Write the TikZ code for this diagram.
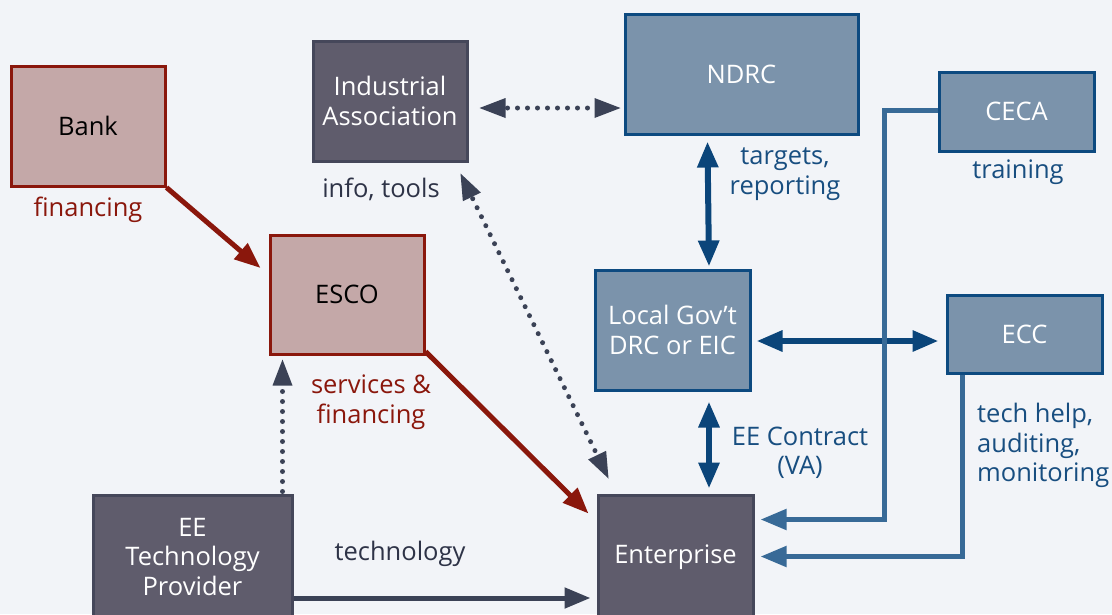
\documentclass[tikz,border=0pt]{standalone}
\usepackage{fontspec}
\setmainfont{Open Sans}
\usetikzlibrary{arrows.meta,calc}
\definecolor{bgc}{HTML}{F2F4F8}
\definecolor{redfill}{HTML}{C4A8A8}
\definecolor{redline}{HTML}{8A170C}
\definecolor{grayfill}{HTML}{5F5C6C}
\definecolor{grayline}{HTML}{45475A}
\definecolor{grayarr}{HTML}{3B4256}
\definecolor{bluefill}{HTML}{7B93AB}
\definecolor{blueline}{HTML}{0D4A80}
\definecolor{bluearr}{HTML}{0B457A}
\definecolor{steel}{HTML}{386A97}
\definecolor{bluetext}{HTML}{184E80}
\definecolor{graytext}{HTML}{2E3347}
\tikzset{
  txt/.style={font=\fontsize{25.5}{29.5}\selectfont, align=center, inner sep=0pt},
  box/.style={txt, draw, line width=3pt, minimum width=154pt, minimum height=120pt},
  redbox/.style={box, fill=redfill, draw=redline, text=black},
  graybox/.style={box, fill=grayfill, draw=grayline, text=white},
  bluebox/.style={box, fill=bluefill, draw=blueline, text=white},
  redarrow/.style={draw=redline, line width=5pt, -{Triangle[length=26pt,width=20pt]}},
  grayarrow/.style={draw=grayarr, line width=5pt, -{Triangle[length=26pt,width=20pt]}},
  dotline/.style={draw=grayarr, line width=5pt, line cap=round, dash pattern=on 0pt off 10pt},
  graytip/.style={fill=grayarr, draw=none},
  bluearrow/.style={draw=bluearr, line width=6pt, {Triangle[length=26pt,width=20pt]}-{Triangle[length=26pt,width=20pt]}},
  steelarrow/.style={draw=steel, line width=5pt, -{Triangle[length=26pt,width=20pt]}},
  label/.style={txt, yshift=-2.5pt},
  redlabel/.style={label, text=redline},
  graylabel/.style={label, text=graytext},
  bluelabel/.style={label, text=bluetext},
}
\begin{document}
\begin{tikzpicture}[x=1pt,y=-1pt]
\fill[bgc] (0,0) rectangle (1112,614);
\useasboundingbox (0,0) rectangle (1112,614);

% boxes
\node[redbox] (bank) at (88,126) {Bank};
\node[redbox, minimum height=119pt] (esco) at (347,294.5) {ESCO};
\node[graybox] (ia) at (390,101) {Industrial\\Association};
\node[bluebox, minimum width=233pt] (ndrc) at (741.5,74) {NDRC};
\node[bluebox, minimum width=155pt, minimum height=79pt] (ceca) at (1016.5,111.5) {CECA};
\node[bluebox, minimum width=155pt] (lgov) at (672.5,330) {Local Gov’t\\DRC or EIC};
\node[bluebox, minimum width=155pt, minimum height=78pt] (ecc) at (1024.5,334) {ECC};
\node[graybox, minimum width=155pt, minimum height=124pt] (ent) at (675.5,557) {Enterprise};
\node[graybox, minimum width=199pt, minimum height=124pt] (eet) at (192.5,557) {EE\\Technology\\Provider};

% labels
\node[redlabel] (lfin) at (88,207) {financing};
\node[graylabel] (linfo) at (381,187) {info, tools};
\node[bluelabel] (ltarg) at (785,171.5) {targets,\\reporting};
\node[bluelabel] (ltrain) at (1018,170) {training};
\node[redlabel] (lserv) at (371,399.5) {services \&\\financing};
\node[bluelabel] (lcontract) at (800,450.5) {EE Contract\\(VA)};
\node[bluelabel, align=left, anchor=west] (ltech) at (977,443) {tech help,\\auditing,\\monitoring};
\node[graylabel] (ltechn) at (400,551) {technology};

% financing flows
\draw[redarrow] (bank.south east) -- ($(esco.west)+(-8,-26.5)$);
\draw[redarrow] ($(esco.south east)+(0,-4)$) -- ($(ent.north west)+(-8,20)$);

% information links (dotted, with solid tips)
\coordinate (ia1) at ($(ia.east)+(11,7)$);
\coordinate (nd1) at ($(ndrc.west)+(-3,34)$);
\draw[dotline] ($(ia1)!28pt!(nd1)$) -- ($(nd1)!28pt!(ia1)$);
\fill[graytip] (ia1) -- ($(ia1)!26pt!(nd1)!10pt!90:(nd1)$) -- ($(ia1)!26pt!(nd1)!10pt!-90:(nd1)$) -- cycle;
\fill[graytip] (nd1) -- ($(nd1)!26pt!(ia1)!10pt!90:(ia1)$) -- ($(nd1)!26pt!(ia1)!10pt!-90:(ia1)$) -- cycle;

\coordinate (ia2) at ($(ia.south east)+(-8,11)$);
\coordinate (en2) at ($(ent.north west)+(12,-15)$);
\draw[dotline] ($(ia2)!28pt!(en2)$) -- ($(en2)!28pt!(ia2)$);
\fill[graytip] (ia2) -- ($(ia2)!26pt!(en2)!10pt!90:(en2)$) -- ($(ia2)!26pt!(en2)!10pt!-90:(en2)$) -- cycle;
\fill[graytip] (en2) -- ($(en2)!26pt!(ia2)!10pt!90:(ia2)$) -- ($(en2)!26pt!(ia2)!10pt!-90:(ia2)$) -- cycle;

\coordinate (ee3) at ($(eet.north west)+(191,-2)$);
\coordinate (es3) at ($(esco.south west)+(14,4)$);
\draw[dotline] (ee3) -- ($(es3)!28pt!(ee3)$);
\fill[graytip] (es3) -- ($(es3)!26pt!(ee3)!10pt!90:(ee3)$) -- ($(es3)!26pt!(ee3)!10pt!-90:(ee3)$) -- cycle;

% technology supply
\draw[grayarrow] ($(eet.east)+(0,41)$) -- ($(ent.west)+(-6,41)$);

% government links
\draw[bluearrow] ($(ndrc.south west)+(84,6)$) -- ($(lgov.north)+(36.5,-2)$);
\draw[bluearrow] ($(lgov.east)+(5,11)$) -- ($(ecc.west)+(-7,7)$);
\draw[bluearrow] ($(lgov.south)+(36.5,10)$) -- ($(ent.north)+(33.5,-5)$);

% support services
\draw[steelarrow] ($(ceca.west)+(0,-1)$) -| (884,519.5) -- ($(ent.east)+(6,-37.5)$);
\draw[steelarrow] ($(ecc.south west)+(17,0)$) |- ($(ent.east)+(6,-0.5)$);
\end{tikzpicture}
\end{document}
